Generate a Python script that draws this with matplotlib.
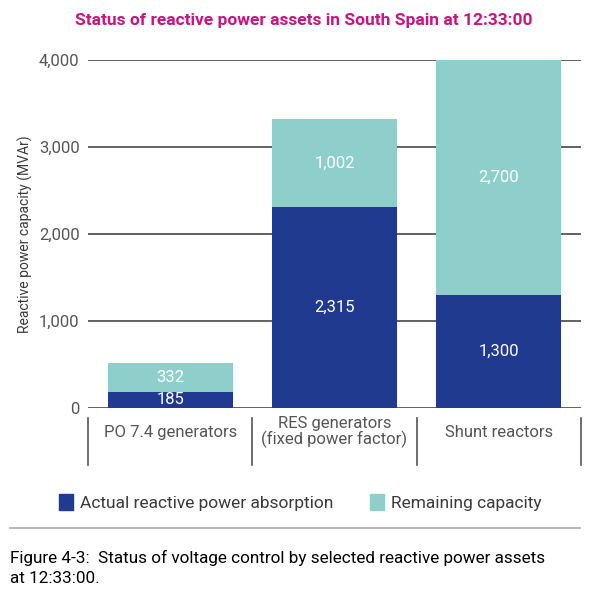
import numpy as np
import matplotlib
matplotlib.use("Agg")
import matplotlib.pyplot as plt
from matplotlib.patches import Patch

plt.rcParams['font.family'] = ['Roboto', 'DejaVu Sans']

categories = ['PO 7.4 generators', 'RES generators\n(fixed power factor)', 'Shunt reactors']
actual = [185, 2315, 1300]
remaining = [332, 1002, 2700]
yticks = [0, 1000, 2000, 3000, 4000]

blue = '#1f3a8f'
teal = '#8ecfcb'
grey = '#555555'

fig = plt.figure(figsize=(6.01, 5.95), dpi=100)
ax = fig.add_axes([0.1464, 0.3143, 0.8203, 0.5849])

x = np.arange(len(categories))
ax.bar(x, actual, width=0.76, color=blue, zorder=3)
ax.bar(x, remaining, width=0.76, bottom=actual, color=teal, zorder=3)

for xi, a, r in zip(x, actual, remaining):
    ax.text(xi, a / 2, f'{a:,}', ha='center', va='center', color='white', fontsize=12, zorder=4)
    ax.text(xi, a + r / 2, f'{r:,}', ha='center', va='center', color='white', fontsize=12, zorder=4)

ax.set_xlim(-0.5, 2.5)
ax.set_ylim(0, 4000)
ax.set_yticks(yticks)
ax.set_yticklabels([f'{v:,}' for v in yticks], color=grey, fontsize=12)
ax.tick_params(axis='y', length=0, pad=6)
ax.set_xticks([])
for v in yticks:
    ax.axhline(v, color=grey, lw=1.3, zorder=1)
for s in ax.spines.values():
    s.set_visible(False)
ax.set_ylabel('Reactive power capacity (MVAr)', color='#3a3a3a', fontsize=10, labelpad=4)

# category labels and dividers under the axis
for xi, c in zip(x, categories):
    ax.text(xi, -280, c, ha='center', va='center', color=grey, fontsize=12,
            linespacing=1.0, clip_on=False)
for d in [-0.5, 0.5, 1.5, 2.5]:
    ax.plot([d, d], [-115, -655], color=grey, lw=1.2, clip_on=False)

fig.text(0.505, 0.965, 'Status of reactive power assets in South Spain at 12:33:00',
         ha='center', va='center', color='#c8157f', fontsize=12.5, fontweight='bold')

handles = [Patch(color=blue, label='Actual reactive power absorption'),
           Patch(color=teal, label='Remaining capacity')]
fig.legend(handles=handles, loc='center', bbox_to_anchor=(0.5, 0.155), ncol=2,
           frameon=False, fontsize=12.5, handlelength=0.8, handleheight=1.0,
           handletextpad=0.4, columnspacing=2.1, labelcolor='#3a3a3a')

fig.add_artist(plt.Line2D([0.017, 0.965], [0.113, 0.113], color='#aaaaaa', lw=1.2))
fig.text(0.017, 0.045, 'Figure 4-3:  Status of voltage control by selected reactive power assets\nat 12:33:00.',
         ha='left', va='center', color='black', fontsize=12.3, linespacing=1.45)

fig.savefig('out.png', dpi=100)
